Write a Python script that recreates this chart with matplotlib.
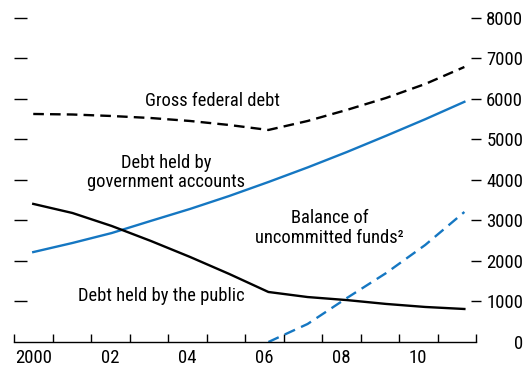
import numpy as np
import matplotlib
matplotlib.use("Agg")
import matplotlib.pyplot as plt

# fiscal years, values in billions of dollars
years = np.arange(2000, 2012)
gross_debt = [5630, 5617, 5580, 5530, 5457, 5358, 5235, 5457, 5730, 6025, 6370, 6790]
gov_accounts = [2220, 2445, 2690, 2990, 3285, 3605, 3950, 4310, 4690, 5090, 5500, 5930]
public_debt = [3410, 3185, 2865, 2495, 2100, 1680, 1235, 1110, 1035, 940, 865, 815]
bal_years = np.arange(2006, 2012)
balance = [0, 445, 1085, 1700, 2395, 3210]

xlabels = ["2000", "02", "04", "06", "08", "10"]
ylabels = ["0", "1000", "2000", "3000", "4000", "5000", "6000", "7000", "8000"]

blue = "#1577c2"
plt.rcParams["font.family"] = ["Roboto Condensed", "DejaVu Sans"]


def pos(y):
    # points sit mid-year, spread a touch wider than the year ticks
    return 2000.5 + (np.asarray(y) - 2000) * 1.018


fig = plt.figure(figsize=(5.31, 3.68), dpi=100)
ax = fig.add_axes([14 / 531, 26 / 368, 462 / 531, 342 / 368])
ax.set_xlim(2000, 2012)
ax.set_ylim(0, 8444)

ax.plot(pos(years), gross_debt, color="black", lw=1.7, dashes=(4.5, 2.6))
ax.plot(pos(years), gov_accounts, color=blue, lw=1.7)
ax.plot(pos(years), public_debt, color="black", lw=1.7)
ax.plot(pos(bal_years), balance, color=blue, lw=1.7, dashes=(4.8, 2.8))

for s in ["left", "right", "top"]:
    ax.spines[s].set_visible(False)
ax.spines["bottom"].set_linewidth(1.0)

# x ticks at year boundaries, labels at mid-year
ax.set_xticks(np.arange(2000, 2013))
ax.set_xticklabels([])
ax.set_xticks(np.arange(2000.5, 2011, 2), minor=True)
ax.set_xticklabels(xlabels, minor=True, fontsize=13.5)
ax.tick_params(axis="x", which="major", direction="in", length=6, width=1.0)
ax.tick_params(axis="x", which="minor", length=0, pad=5)

ax.set_yticks(np.arange(1000, 8001, 1000))
ax.tick_params(axis="y", left=True, right=False, direction="in", length=9,
               width=1.0, labelleft=False)

ax2 = ax.twinx()
ax2.set_ylim(0, 8444)
for s in ["left", "right", "top", "bottom"]:
    ax2.spines[s].set_visible(False)
ax2.set_yticks(np.arange(0, 8001, 1000))
ax2.set_yticklabels(ylabels, fontsize=13.5, ha="right")
ax2.tick_params(axis="y", direction="inout", length=7, width=1.0, pad=30.5)
ax2.yaxis.get_major_ticks()[0].tick2line.set_visible(False)

ax.text(2005.16, 5950, "Gross federal debt", fontsize=13.3,
        ha="center", va="center")
ax.text(2003.95, 4190, "Debt held by\ngovernment accounts",
        fontsize=13.3, ha="center", va="center", linespacing=1.1)
ax.text(2008.2, 2810, "Balance of\nuncommitted funds\u00b2",
        fontsize=13.3, ha="center", va="center", linespacing=1.1)
ax.text(2003.82, 1140, "Debt held by the public", fontsize=13.3,
        ha="center", va="center")

fig.savefig("out.png", dpi=100)
